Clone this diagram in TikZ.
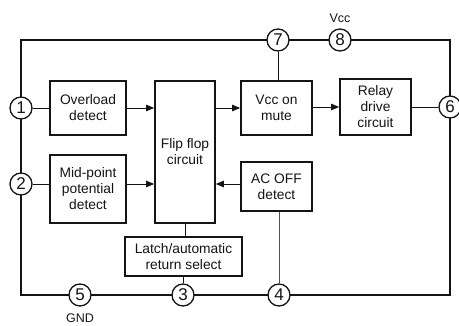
\documentclass[tikz,border=0pt]{standalone}
\usepackage{fontspec}
\setmainfont{Liberation Sans}
\usetikzlibrary{arrows.meta}
\definecolor{inkblack}{HTML}{141414}
\definecolor{inkgray}{HTML}{505050}
\tikzset{
  block/.style={draw=inkblack,line width=1.7pt,align=center,inner sep=1pt,
    text=inkblack,font=\fontsize{13.8}{16}\selectfont},
  pin/.style={circle,draw=inkblack,fill=white,line width=1.3pt,
    minimum size=22pt,inner sep=0pt,text=inkblack,font=\fontsize{17}{17}\selectfont},
  frame/.style={draw=inkblack,line width=1.9pt},
  wire/.style={draw=inkblack,line width=0.9pt},
  thin wire/.style={draw=inkgray,line width=0.9pt},
  signal/.style={wire,-{Triangle[length=8pt,width=6.5pt]}},
  tag/.style={text=inkblack,inner sep=1pt,font=\fontsize{12.5}{12.5}\selectfont}
}

\begin{document}
\begin{tikzpicture}[x=1pt,y=-1pt]
  \useasboundingbox (0,0) rectangle (459,326);
  % outer frame
  \draw[frame] (21,40) rectangle (450,295);
  % pins
  \node[pin] (p1) at (21,108) {1};
  \node[pin] (p2) at (21,184) {2};
  \node[pin] (p3) at (183,295) {3};
  \node[pin] (p4) at (279,295) {4};
  \node[pin] (p5) at (80,295) {5};
  \node[pin] (p6) at (450,107) {6};
  \node[pin] (p7) at (278,40) {7};
  \node[pin] (p8) at (340,40) {8};
  \node[tag] (vcc) at (340,18) {Vcc};
  \node[tag] (gnd) at (80,318) {GND};
  % blocks
  \node[block,minimum width=76pt,minimum height=54pt] (ovl) at (88,108) {Overload\\detect};
  \node[block,minimum width=76pt,minimum height=68pt] (mid) at (88,189) {Mid-point\\potential\\detect};
  \node[block,minimum width=60pt,minimum height=142pt] (ff) at (185,152) {Flip flop\\circuit};
  \node[block,minimum width=117pt,minimum height=39pt] (latch) at (183.5,256.5) {Latch/automatic\\return select};
  \node[block,minimum width=71pt,minimum height=54pt] (mute) at (276.5,108) {Vcc on\\mute};
  \node[block,minimum width=71pt,minimum height=56pt] (relay) at (375.5,107) {Relay\\drive\\circuit};
  \node[block,minimum width=71pt,minimum height=49pt] (acoff) at (276.5,186.5) {AC OFF\\detect};
  % connections
  \draw[wire] (p1) -- (ovl);
  \draw[signal] (ovl) -- (ovl -| ff.west);
  \draw[signal] (ff.east |- mute) -- (mute);
  \draw[signal] (mute.east |- relay) -- (relay);
  \draw[wire] (relay) -- (p6);
  \draw[wire] (p7) -- (p7 |- mute.north);
  \draw[wire] (p2) -- (p2 -| mid.west);
  \draw[signal] (mid.east |- p2) -- (ff.west |- p2);
  \draw[signal] (acoff.west |- p2) -- (ff.east |- p2);
  \draw[thin wire] (p4) -- (p4 |- acoff.south);
  \draw[wire] (ff.south) -- (ff.south |- latch.north);
  \draw[wire] (p3) -- (p3 |- latch.south);
\end{tikzpicture}
\end{document}
